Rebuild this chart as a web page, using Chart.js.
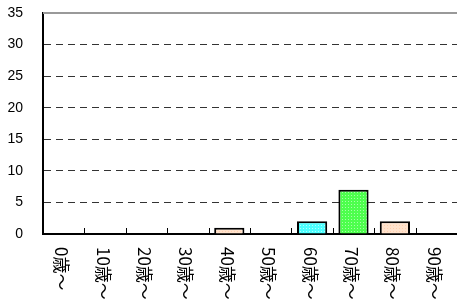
<!DOCTYPE html>
<html><head><meta charset="utf-8">
<script src="https://cdn.jsdelivr.net/npm/chart.js@4/dist/chart.umd.min.js"></script>
<style>html,body{margin:0;padding:0;background:#fff;}canvas{display:block;}</style>
</head><body>
<canvas id="c" width="457" height="306"></canvas>
<script>
const categories = ['0歳～','10歳～','20歳～','30歳～','40歳～','50歳～','60歳～','70歳～','80歳～','90歳～'];
const values = [0,0,0,0,1,0,2,7,2,0];
const yTicks = [0,5,10,15,20,25,30,35];
const barBase = ['#FFE2CC','#FFE2CC','#FFE2CC','#FFE2CC','#FFE2CC','#FFE2CC','#4DFFFF','#4DFF4D','#FFE2CC','#FFE2CC'];
const barDot  = ['#FFCFAE','#FFCFAE','#FFCFAE','#FFCFAE','#FFCFAE','#FFCFAE','#B3FFFF','#A6FFA6','#FFCFAE','#FFCFAE'];

function pattern(base, dot){
  const p = document.createElement('canvas'); p.width = 3; p.height = 3;
  const g = p.getContext('2d');
  g.fillStyle = base; g.fillRect(0,0,3,3);
  g.fillStyle = dot; g.fillRect(0,0,1,1);
  return g.createPattern(p,'repeat');
}
const fills = barBase.map((b,i)=>pattern(b, barDot[i]));

const extras = {
  id:'extras',
  afterDraw(chart){
    const {ctx, chartArea:a, scales:{x,y}} = chart;
    ctx.save();
    const yt = y.getPixelForValue(35);
    ctx.strokeStyle = '#999'; ctx.lineWidth = 2;
    ctx.beginPath(); ctx.moveTo(a.left, yt); ctx.lineTo(a.right, yt); ctx.stroke();
    ctx.strokeStyle = '#000'; ctx.lineWidth = 1;
    for (let i=1;i<categories.length;i++){
      const bx = Math.round((x.getPixelForValue(i-1)+x.getPixelForValue(i))/2)+0.5;
      ctx.beginPath(); ctx.moveTo(bx, a.bottom); ctx.lineTo(bx, a.bottom-6); ctx.stroke();
    }
    ctx.fillStyle = '#000';
    ctx.font = '17px "Noto Sans CJK JP"';
    ctx.textAlign = 'left'; ctx.textBaseline = 'middle';
    categories.forEach((lab,i)=>{
      const px = x.getPixelForValue(i);
      ctx.save(); ctx.translate(px-2, a.bottom+13); ctx.rotate(Math.PI/2);
      ctx.fillText(lab,0,0); ctx.restore();
    });
    ctx.restore();
  }
};

new Chart(document.getElementById('c'), {
  type:'bar',
  data:{labels:categories, datasets:[{
    data:values,
    backgroundColor:fills,
    borderColor:'#000',
    borderWidth:(c)=> c.raw ? 2 : 0,
    barPercentage:0.73,
    categoryPercentage:1
  }]},
  options:{
    responsive:false, animation:false,
    layout:{padding:{top:13,right:0,left:0,bottom:0}},
    plugins:{legend:{display:false}, tooltip:{enabled:false}},
    scales:{
      x:{
        grid:{display:false},
        border:{display:true,color:'#000',width:2},
        ticks:{display:false},
        afterFit(s){ s.height = 72; s.paddingLeft = 0; s.paddingRight = 0; }
      },
      y:{
        min:0,max:35,
        afterBuildTicks(s){ s.ticks = yTicks.map(v=>({value:v})); },
        grid:{color:(c)=> (c.tick && (c.tick.value===0||c.tick.value===35)) ? 'rgba(0,0,0,0)' : '#333', lineWidth:1, drawTicks:false},
        border:{display:true,color:'#000',width:2,dash:(c)=> c.type==='tick' ? [7,5] : []},
        ticks:{color:'#000',font:{family:'"Liberation Sans", Arial',size:14},padding:20},
        afterFit(s){ s.width = 43; s.paddingTop = 0; s.paddingBottom = 0; }
      }
    }
  },
  plugins:[extras]
});
</script>
</body></html>
